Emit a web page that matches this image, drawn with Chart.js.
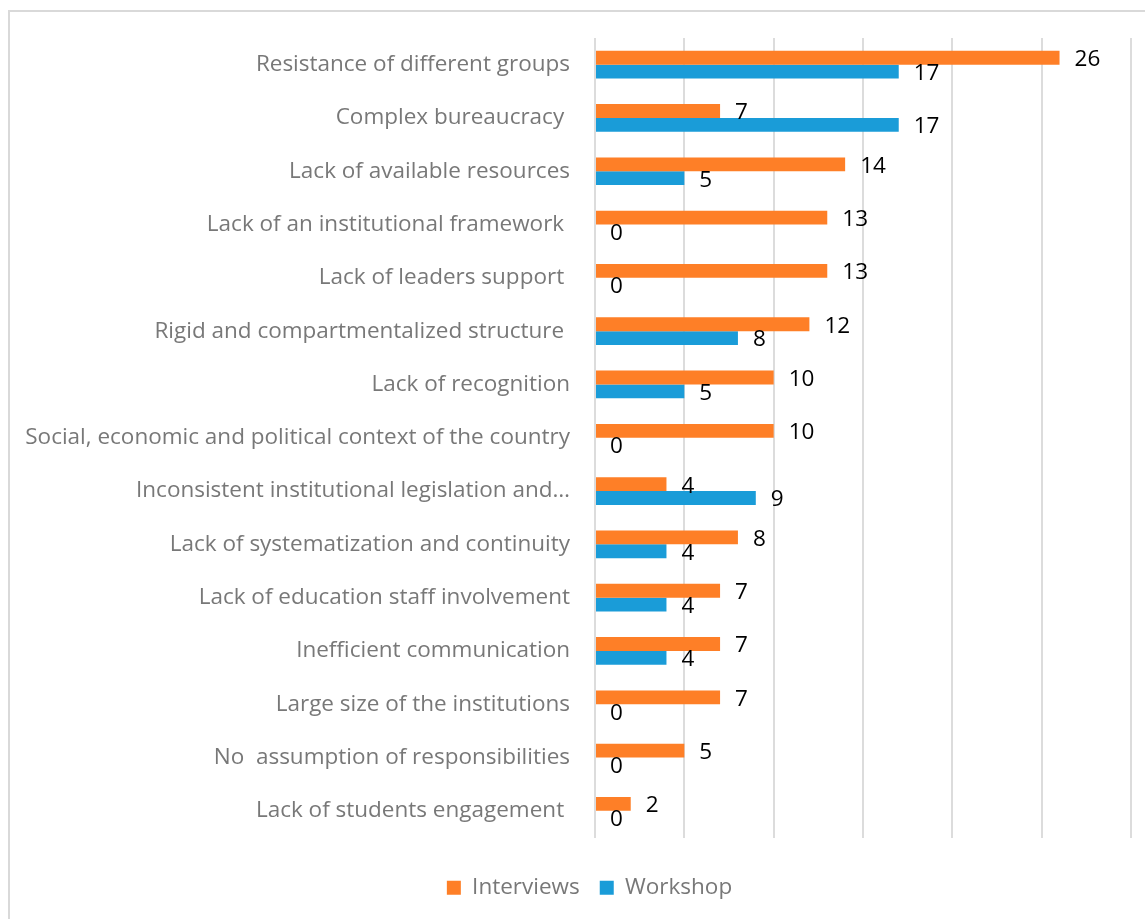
<!DOCTYPE html>
<html>
<head>
<meta charset="utf-8">
<script src="https://cdn.jsdelivr.net/npm/chart.js@4.4.1/dist/chart.umd.min.js"></script>
<style>
  html, body { margin: 0; padding: 0; background: #fff; }
  #frame {
    position: absolute; left: 8px; top: 10px;
    width: 1135px; height: 907px;
    border-left: 2px solid #d9d9d9; border-top: 2px solid #d9d9d9;
  }
  canvas { display: block; }
</style>
</head>
<body>
<div id="frame"><canvas id="chart" width="1135" height="907"></canvas></div>
<script>
// categories, top to bottom
const categories = [
  'Resistance of different groups',
  'Complex bureaucracy ',
  'Lack of available resources',
  'Lack of an institutional framework ',
  'Lack of leaders support ',
  'Rigid and compartmentalized structure ',
  'Lack of recognition',
  'Social, economic and political context of the country',
  'Inconsistent institutional legislation and\u2026',
  'Lack of systematization and continuity',
  'Lack of education staff involvement',
  'Inefficient communication',
  'Large size of the institutions',
  'No  assumption of responsibilities',
  'Lack of students engagement '
];
const interviews = [26, 7, 14, 13, 13, 12, 10, 10, 4, 8, 7, 7, 7, 5, 2];
const workshop = [17, 17, 5, 0, 0, 8, 5, 0, 9, 4, 4, 4, 0, 0, 0];

const FONT = '"Open Sans", Lato, sans-serif';
const FSIZE = 22.5;

// draw the value next to the end of each bar
const valueLabels = {
  id: 'valueLabels',
  beforeDraw(chart) {
    // legend sits a bit right of the canvas centre in the original
    chart.legend.left += 19;
    chart.legend.right += 19;
  },
  afterDatasetsDraw(chart) {
    const ctx = chart.ctx;
    ctx.save();
    ctx.font = FSIZE + 'px ' + FONT;
    ctx.fillStyle = '#000';
    ctx.textAlign = 'left';
    ctx.textBaseline = 'middle';
    chart.data.datasets.forEach((ds, i) => {
      const meta = chart.getDatasetMeta(i);
      meta.data.forEach((bar, j) => {
        ctx.fillText(String(ds.data[j]), bar.x + 15, bar.y + 2);
      });
    });
    ctx.restore();
  }
};

new Chart(document.getElementById('chart'), {
  type: 'bar',
  data: {
    labels: categories,
    datasets: [
      { label: 'Interviews', data: interviews, backgroundColor: '#fe7f27' },
      { label: 'Workshop', data: workshop, backgroundColor: '#1a9cd8' }
    ]
  },
  options: {
    indexAxis: 'y',
    responsive: false,
    animation: false,
    layout: { padding: { top: 26, right: 14, bottom: 10, left: 0 } },
    datasets: { bar: { categoryPercentage: 0.52, barPercentage: 1 } },
    plugins: {
      tooltip: { enabled: false },
      legend: {
        position: 'bottom',
        labels: {
          boxWidth: 14, boxHeight: 14, padding: 20,
          color: '#787878',
          font: { family: FONT, size: FSIZE }
        }
      }
    },
    scales: {
      x: {
        min: 0, max: 30,
        ticks: { display: false, stepSize: 5 },
        grid: { color: '#dcdcdc', lineWidth: 2, drawTicks: false },
        border: { display: false },
        afterFit(s) { s.height = 19; }
      },
      y: {
        ticks: { padding: 25, color: '#787878', font: { family: FONT, size: FSIZE } },
        grid: { display: false, drawTicks: false },
        border: { display: false },
        afterFit(s) {
          s.width = 585;
          // tick padding would otherwise push the plot area down
          s.paddingTop = 0;
          s.paddingBottom = 0;
        }
      }
    }
  },
  plugins: [valueLabels]
});
</script>
</body>
</html>
